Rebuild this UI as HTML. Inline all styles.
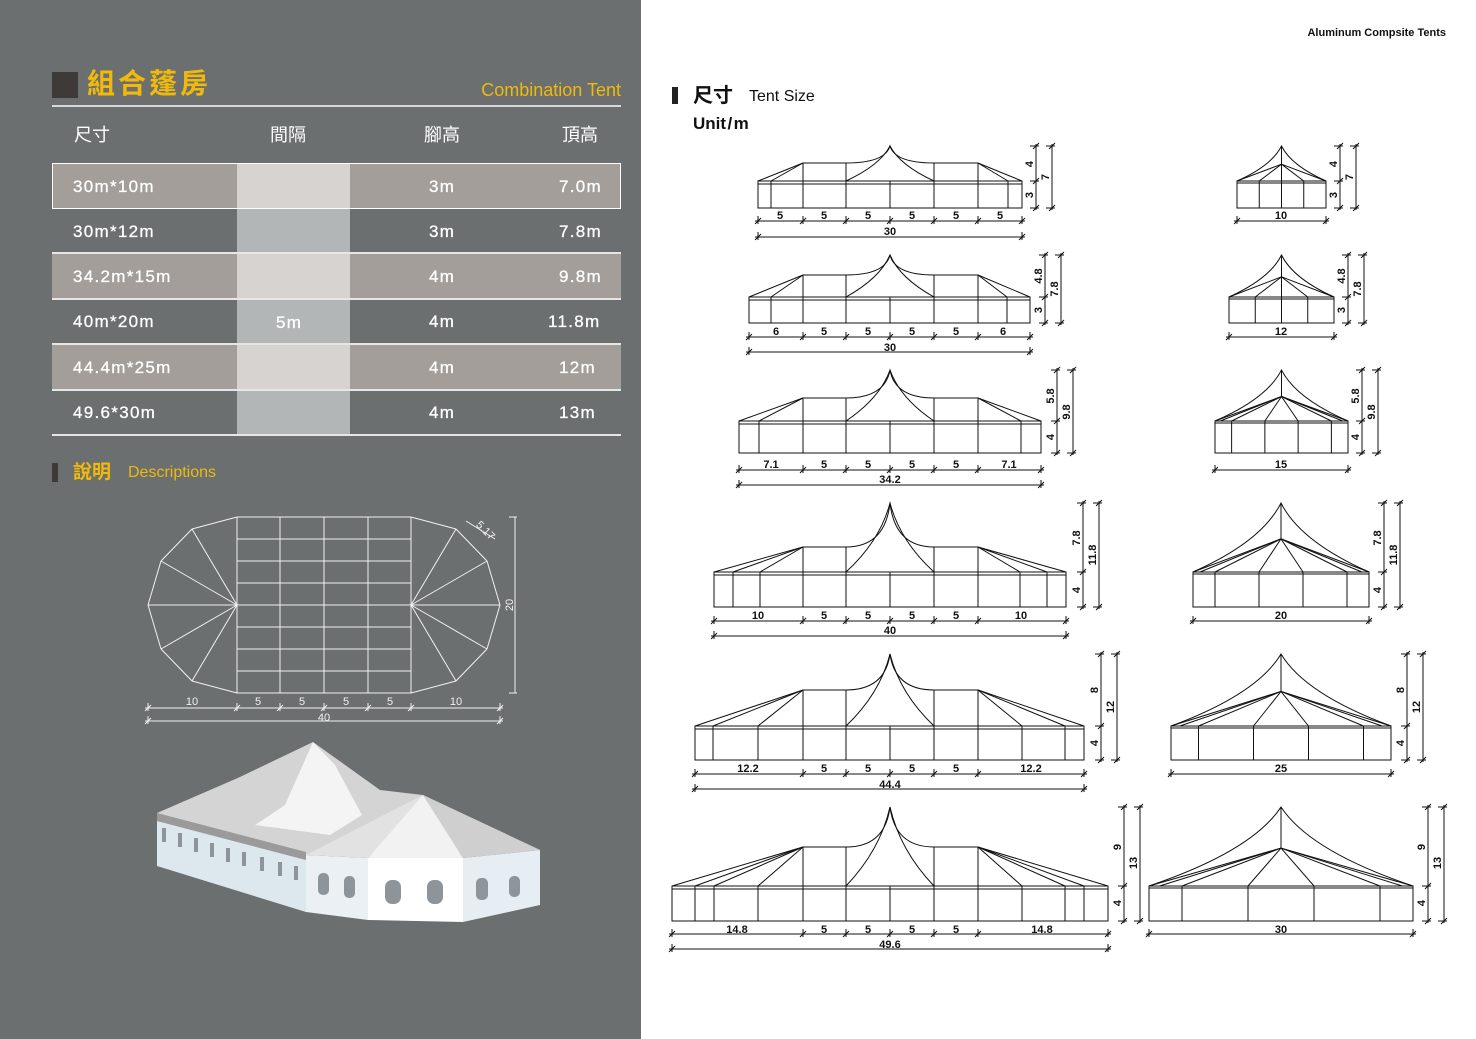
<!DOCTYPE html>
<html><head><meta charset="utf-8"><style>
html,body{margin:0;padding:0;}
body{width:1476px;height:1039px;position:relative;overflow:hidden;background:#fff;font-family:"Liberation Sans","Noto Sans CJK TC",sans-serif;}
#left{position:absolute;left:0;top:0;width:641px;height:1039px;background:#6b6f6f;}
.abs{position:absolute;}
.cell{position:absolute;height:45px;}
.t{position:absolute;color:#fff;font-size:17px;letter-spacing:1.3px;line-height:20px;font-family:"Liberation Sans","Noto Sans CJK TC",sans-serif;-webkit-text-stroke:0.3px #fff;}
.h{position:absolute;color:#fff;font-size:18px;line-height:20px;font-family:"Liberation Sans","Noto Sans CJK TC",sans-serif;}
svg{position:absolute;left:0;top:0;}
</style></head><body>
<div id="left"></div>
<div class="abs" style="left:52px;top:72px;width:26px;height:26px;background:#3d3a38"></div>
<div class="abs" style="left:87px;top:66px;font-size:28px;font-weight:bold;color:#f0b90b;letter-spacing:3px;line-height:36px;font-family:'Liberation Sans','Noto Sans CJK TC',sans-serif;">組合蓬房</div>
<div class="abs" style="left:430px;top:79px;width:191px;text-align:right;font-size:18px;color:#f0b90b;line-height:22px;">Combination Tent</div>
<div class="abs" style="left:52px;top:105px;width:569px;height:2px;background:#d8d8d8"></div>
<div class="h" style="left:74px;top:125px;">尺寸</div>
<div class="h" style="left:270px;top:125px;">間隔</div>
<div class="h" style="left:424px;top:125px;">腳高</div>
<div class="h" style="left:562px;top:125px;">頂高</div>
<div class="cell" style="left:52px;top:163px;width:569px;background:#a39e99"></div>
<div class="cell" style="left:237px;top:163px;width:113px;background:#d6d3d0"></div>
<div class="cell" style="left:237px;top:208px;width:113px;background:#b2b6b6"></div>
<div class="cell" style="left:52px;top:253px;width:569px;background:#a39e99"></div>
<div class="cell" style="left:237px;top:253px;width:113px;background:#d6d3d0"></div>
<div class="cell" style="left:237px;top:299px;width:113px;background:#b2b6b6"></div>
<div class="cell" style="left:52px;top:344px;width:569px;background:#a39e99"></div>
<div class="cell" style="left:237px;top:344px;width:113px;background:#d6d3d0"></div>
<div class="cell" style="left:237px;top:389px;width:113px;background:#b2b6b6"></div>
<div class="abs" style="left:52px;top:163px;width:567px;height:44px;border:1px solid #fff"></div>
<div class="abs" style="left:52px;top:252px;width:569px;height:2px;background:#e6e6e6"></div>
<div class="abs" style="left:52px;top:298px;width:569px;height:2px;background:#e6e6e6"></div>
<div class="abs" style="left:52px;top:343px;width:569px;height:2px;background:#e6e6e6"></div>
<div class="abs" style="left:52px;top:389px;width:569px;height:2px;background:#e6e6e6"></div>
<div class="abs" style="left:52px;top:434px;width:569px;height:2px;background:#e6e6e6"></div>

<div class="t" style="left:73px;top:177px;">30m*10m</div><div class="t" style="left:429px;top:177px;">3m</div><div class="t" style="left:559px;top:177px;">7.0m</div>
<div class="t" style="left:73px;top:222px;">30m*12m</div><div class="t" style="left:429px;top:222px;">3m</div><div class="t" style="left:559px;top:222px;">7.8m</div>
<div class="t" style="left:73px;top:267px;">34.2m*15m</div><div class="t" style="left:429px;top:267px;">4m</div><div class="t" style="left:559px;top:267px;">9.8m</div>
<div class="t" style="left:73px;top:312px;">40m*20m</div><div class="t" style="left:276px;top:313px;">5m</div><div class="t" style="left:429px;top:312px;">4m</div><div class="t" style="left:548px;top:312px;">11.8m</div>
<div class="t" style="left:73px;top:358px;">44.4m*25m</div><div class="t" style="left:429px;top:358px;">4m</div><div class="t" style="left:559px;top:358px;">12m</div>
<div class="t" style="left:73px;top:403px;">49.6*30m</div><div class="t" style="left:429px;top:403px;">4m</div><div class="t" style="left:559px;top:403px;">13m</div>

<div class="abs" style="left:52px;top:463px;width:6px;height:19px;background:#3d3a38"></div>
<div class="abs" style="left:73px;top:460px;font-size:19px;font-weight:bold;color:#f0b90b;line-height:26px;">說明</div>
<div class="abs" style="left:128px;top:463px;font-size:16px;color:#f0b90b;line-height:20px;">Descriptions</div>

<div class="abs" style="left:1240px;top:27px;width:206px;text-align:right;font-size:11px;font-weight:bold;color:#111;">Aluminum Compsite Tents</div>
<div class="abs" style="left:672px;top:87px;width:6px;height:17px;background:#222"></div>
<div class="abs" style="left:693px;top:83px;font-size:20px;font-weight:bold;color:#111;line-height:26px;">尺寸</div>
<div class="abs" style="left:749px;top:87px;font-size:16px;color:#111;line-height:20px;">Tent Size</div>
<div class="abs" style="left:693px;top:113px;font-size:17px;font-weight:bold;color:#111;line-height:22px;">Unit&#8202;/&#8202;m</div>

<svg width="1476" height="1039" viewBox="0 0 1476 1039">
<g stroke="none">
<polygon points="157,813 240,777 313,742 380,790 423,795 540,850 306,855 157,817" fill="#d4d4d4"/>
<polygon points="285,805 313,742 335,765 362,815 330,835 255,825" fill="#f4f4f4"/>
<polygon points="157,813 306,852 306,860 157,821" fill="#9a9a9a"/>
<polygon points="157,821 306,860 306,912 157,866" fill="#dde7ee"/>
<polygon points="306,855 368,858 368,920 306,912" fill="#eaf0f4"/>
<polygon points="368,858 463,858 463,922 368,920" fill="#ffffff"/>
<polygon points="463,858 540,850 540,905 463,922" fill="#e6eef3"/>
<polygon points="306,855 423,795 368,858" fill="#e2e2e2"/>
<polygon points="423,795 368,858 463,858" fill="#f2f2f2"/>
<polygon points="423,795 463,858 540,850" fill="#cfcfcf"/>
</g>
<g fill="#8d959b">
<rect x="318" y="873" width="11" height="22" rx="5"/><rect x="344" y="876" width="11" height="22" rx="5"/>
<rect x="385" y="880" width="16" height="24" rx="7"/><rect x="427" y="880" width="16" height="24" rx="7"/>
<rect x="476" y="878" width="12" height="22" rx="5"/><rect x="509" y="876" width="11" height="21" rx="5"/>
<rect x="162" y="828" width="4" height="14"/><rect x="178" y="833" width="4" height="14"/><rect x="194" y="838" width="4" height="14"/><rect x="210" y="843" width="4" height="14"/><rect x="226" y="848" width="4" height="14"/><rect x="242" y="852" width="4" height="14"/><rect x="260" y="857" width="4" height="14"/><rect x="278" y="862" width="4" height="14"/><rect x="294" y="866" width="4" height="14"/>
</g>
<g id="plan" stroke="#f2f2f2" stroke-width="1" fill="none"></g>
<g id="g" stroke="#111" stroke-width="1" fill="none"></g>
<g font-family="Liberation Sans, sans-serif" font-weight="bold" font-size="11" fill="#111" text-anchor="middle">
<g fill="#f2f2f2" font-weight="normal" font-size="11">
<text x="192" y="705">10</text><text x="258" y="705">5</text><text x="302" y="705">5</text><text x="346" y="705">5</text><text x="390" y="705">5</text><text x="456" y="705">10</text><text x="324" y="721">40</text>
<text transform="translate(513,605) rotate(-90)">20</text>
<text transform="translate(483,533) rotate(45)">5.17</text>
</g>
<text x="780" y="219">5</text><text x="824" y="219">5</text><text x="868" y="219">5</text><text x="912" y="219">5</text><text x="956" y="219">5</text><text x="1000" y="219">5</text><text x="890" y="235">30</text>
<text transform="translate(1033,164) rotate(-90)">4</text><text transform="translate(1033,195) rotate(-90)">3</text><text transform="translate(1049,177) rotate(-90)">7</text>
<text x="1281" y="219">10</text>
<text transform="translate(1337,164) rotate(-90)">4</text><text transform="translate(1337,195) rotate(-90)">3</text><text transform="translate(1353,177) rotate(-90)">7</text>
<text x="776" y="335">6</text><text x="824" y="335">5</text><text x="868" y="335">5</text><text x="912" y="335">5</text><text x="956" y="335">5</text><text x="1003" y="335">6</text><text x="890" y="351">30</text>
<text transform="translate(1042,276) rotate(-90)">4.8</text><text transform="translate(1042,310) rotate(-90)">3</text><text transform="translate(1058,289) rotate(-90)">7.8</text>
<text x="1281" y="335">12</text>
<text transform="translate(1345,276) rotate(-90)">4.8</text><text transform="translate(1345,310) rotate(-90)">3</text><text transform="translate(1361,289) rotate(-90)">7.8</text>
<text x="771" y="468">7.1</text><text x="824" y="468">5</text><text x="868" y="468">5</text><text x="912" y="468">5</text><text x="956" y="468">5</text><text x="1009" y="468">7.1</text><text x="890" y="483">34.2</text>
<text transform="translate(1054,396) rotate(-90)">5.8</text><text transform="translate(1054,437) rotate(-90)">4</text><text transform="translate(1070,412) rotate(-90)">9.8</text>
<text x="1281" y="468">15</text>
<text transform="translate(1359,396) rotate(-90)">5.8</text><text transform="translate(1359,437) rotate(-90)">4</text><text transform="translate(1375,412) rotate(-90)">9.8</text>
<text x="758" y="619">10</text><text x="824" y="619">5</text><text x="868" y="619">5</text><text x="912" y="619">5</text><text x="956" y="619">5</text><text x="1021" y="619">10</text><text x="890" y="634">40</text>
<text transform="translate(1080,538) rotate(-90)">7.8</text><text transform="translate(1080,590) rotate(-90)">4</text><text transform="translate(1096,555) rotate(-90)">11.8</text>
<text x="1281" y="619">20</text>
<text transform="translate(1381,538) rotate(-90)">7.8</text><text transform="translate(1381,590) rotate(-90)">4</text><text transform="translate(1397,555) rotate(-90)">11.8</text>
<text x="748" y="772">12.2</text><text x="824" y="772">5</text><text x="868" y="772">5</text><text x="912" y="772">5</text><text x="956" y="772">5</text><text x="1031" y="772">12.2</text><text x="890" y="788">44.4</text>
<text transform="translate(1098,690) rotate(-90)">8</text><text transform="translate(1098,743) rotate(-90)">4</text><text transform="translate(1114,707) rotate(-90)">12</text>
<text x="1281" y="772">25</text>
<text transform="translate(1404,690) rotate(-90)">8</text><text transform="translate(1404,743) rotate(-90)">4</text><text transform="translate(1420,707) rotate(-90)">12</text>
<text x="737" y="933">14.8</text><text x="824" y="933">5</text><text x="868" y="933">5</text><text x="912" y="933">5</text><text x="956" y="933">5</text><text x="1042" y="933">14.8</text><text x="890" y="948">49.6</text>
<text transform="translate(1121,847) rotate(-90)">9</text><text transform="translate(1121,903) rotate(-90)">4</text><text transform="translate(1137,863) rotate(-90)">13</text>
<text x="1281" y="933">30</text>
<text transform="translate(1425,847) rotate(-90)">9</text><text transform="translate(1425,903) rotate(-90)">4</text><text transform="translate(1441,863) rotate(-90)">13</text>
</g>
</svg>
<script>
const NS="http://www.w3.org/2000/svg";
let G=document.getElementById('g');
function el(n,a,p){const e=document.createElementNS(NS,n);for(const k in a)e.setAttribute(k,a[k]);(p||G).appendChild(e);return e;}
function L(x1,y1,x2,y2,p){el('line',{x1,y1,x2,y2},p);}
function Pth(d){el('path',{d});}
function hdim(y,xs,p){L(xs[0]-3,y,xs[xs.length-1]+3,y,p);xs.forEach(x=>{L(x,y-5,x,y+3,p);L(x-3,y+3,x+3,y-3,p);});}
function vdim(x,ys){L(x,ys[0]-2,x,ys[ys.length-1]+2);ys.forEach(y=>{L(x-6,y,x+3,y);L(x-3,y+3,x+3,y-3);});}
(function(){const P=document.getElementById('plan');
const cy=605;
[237,280,324,368,411].forEach(x=>L(x,517,x,693,P));
for(let y=517;y<=694;y+=22)L(237,y,411,y,P);
const lp=[[237,517],[192,529],[161,561],[148,605],[161,649],[192,681],[237,693]];
for(let i=0;i<lp.length-1;i++){L(lp[i][0],lp[i][1],lp[i+1][0],lp[i+1][1],P);}
lp.forEach(p=>{L(237,cy,p[0],p[1],P);L(411,cy,648-p[0],p[1],P);});
for(let i=0;i<lp.length-1;i++){L(648-lp[i][0],lp[i][1],648-lp[i+1][0],lp[i+1][1],P);}
hdim(708,[148,237,280,324,368,411,500],P);hdim(721,[148,500],P);
L(515,517,515,693,P);L(509,517,517,517,P);L(509,693,517,693,P);
L(466,521,495,539,P);
})();
function side(o){
 const {Lx,R,eave,gr,top,pk,posts,dy,ty,vx}=o;
 el('rect',{x:Lx,y:eave,width:R-Lx,height:gr-eave});
 L(Lx,eave+3,R,eave+3);
 posts.forEach(x=>L(x,eave,x,gr));
 [803,846,934,978].forEach(x=>L(x,top,x,gr));
 L(890,eave,890,gr);
 L(803,top,846,top);L(934,top,978,top);
 [Lx].concat(posts.filter(x=>x<803)).forEach(x=>L(x,eave,803,top));
 [R].concat(posts.filter(x=>x>978)).forEach(x=>L(x,eave,978,top));
 const h=eave-pk;
 Pth(`M846,${top} Q885,${top} 890,${pk} Q895,${top} 934,${top}`);
 Pth(`M846,${eave} Q880,${eave-h*0.45} 890,${pk} Q900,${eave-h*0.45} 934,${eave}`);
 hdim(dy,[Lx,803,846,890,934,978,R]);hdim(ty,[Lx,R]);
 vdim(vx,[pk,eave,gr]);vdim(vx+16,[pk,gr]);
}
function end(o){
 const {Lx,R,eave,gr,pk,fr,dy,vx}=o;const cx=(Lx+R)/2,w=R-Lx,h=eave-pk,hy=eave-h*0.48;
 el('rect',{x:Lx,y:eave,width:w,height:gr-eave});
 L(Lx,eave+2,R,eave+2);
 const ps=fr.map(f=>Lx+w*f);
 ps.forEach(x=>L(x,eave,x,gr));
 L(cx,pk,cx,fr.length==2?gr:hy);
 [Lx,R].concat(ps).forEach(x=>L(cx,hy,x,eave));
 if(fr.length>2){L(cx,hy,Lx+w*0.04,eave);L(cx,hy,R-w*0.04,eave);}
 Pth(`M${Lx},${eave} Q${Lx+(cx-Lx)*0.78},${eave-h*0.44} ${cx},${pk} Q${R-(R-cx)*0.78},${eave-h*0.44} ${R},${eave}`);
 hdim(dy,[Lx,R]);
 vdim(vx,[pk,eave,gr]);vdim(vx+16,[pk,gr]);
}
const F2=[0.25,0.75],F4=[0.125,0.375,0.625,0.875];
side({Lx:758,R:1022,eave:181,gr:208,top:163,pk:146,posts:[771,1008],dy:221,ty:237,vx:1036});
side({Lx:749,R:1030,eave:297,gr:323,top:275,pk:255,posts:[771,1007],dy:337,ty:352,vx:1045});
side({Lx:739,R:1041,eave:421,gr:453,top:398,pk:370,posts:[759,1021],dy:470,ty:485,vx:1057});
side({Lx:714,R:1066,eave:572,gr:607,top:547,pk:503,posts:[733,760,1020,1047],dy:621,ty:636,vx:1083});
side({Lx:695,R:1084,eave:726,gr:760,top:690,pk:654,posts:[713,758,1022,1065],dy:774,ty:789,vx:1101});
side({Lx:672,R:1108,eave:886,gr:921,top:847,pk:807,posts:[695,714,758,1022,1065,1084],dy:934,ty:949,vx:1124});
end({Lx:1237,R:1326,eave:181,gr:208,pk:146,fr:F2,dy:221,vx:1340});
end({Lx:1229,R:1334,eave:297,gr:323,pk:255,fr:F2,dy:337,vx:1348});
end({Lx:1215,R:1348,eave:421,gr:453,pk:370,fr:F4,dy:470,vx:1362});
end({Lx:1193,R:1369,eave:572,gr:607,pk:503,fr:F4,dy:621,vx:1384});
end({Lx:1171,R:1391,eave:726,gr:760,pk:654,fr:F4,dy:774,vx:1407});
end({Lx:1149,R:1413,eave:886,gr:921,pk:807,fr:F4,dy:934,vx:1428});
</script>
</body></html>
